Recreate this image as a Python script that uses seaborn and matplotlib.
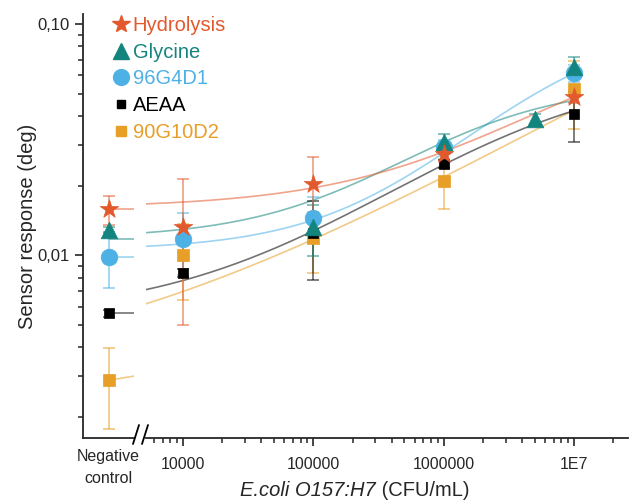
import numpy as np
import pandas as pd
import matplotlib
matplotlib.use("Agg")
import matplotlib.pyplot as plt
import seaborn as sns
from matplotlib.lines import Line2D
from matplotlib.ticker import FixedLocator, LogLocator, NullFormatter, FixedFormatter

# ---------------- data ----------------
series = ["Hydrolysis", "Glycine", "96G4D1", "AEAA", "90G10D2"]
colors = ["#E2592D", "#14857E", "#4DB1E6", "#000000", "#E89F27"]
markers = ["*", "^", "o", "s", "s"]
msizes = [14, 12, 12, 7, 8]

# negative control (mean, sd)
nc_mean = [0.0158, 0.0129, 0.00985, 0.00562, 0.00288]
nc_err = [0.0023, 0.0003, 0.0026, 0.0002, 0.0011]
# level of the fit baseline shown in the negative-control panel (start, end)
nc_fit_start = [0.0158, 0.0117, 0.00985, 0.00562, 0.00288]
nc_fit_end = [0.0158, 0.0117, 0.00985, 0.00562, 0.0030]

conc_hyd = [1e4, 1e5, 1e6, 1e7]
resp_hyd = [0.0132, 0.0204, 0.0275, 0.0484]
err_hyd = [0.0082, 0.0063, 0.0020, 0.0030]

conc_gly = [1e5, 1e6, 5e6, 1e7]
resp_gly = [0.0132, 0.0310, 0.0388, 0.0653]
err_gly = [0.0033, 0.0025, 0.0020, 0.0065]

conc_96 = [1e4, 1e5, 1e6, 1e7]
resp_96 = [0.0117, 0.01455, 0.0294, 0.0612]
err_96 = [0.0035, 0.0033, 0.0020, 0.0050]

conc_aeaa = [1e4, 1e5, 1e6, 1e7]
resp_aeaa = [0.00838, 0.0125, 0.0248, 0.0410]
err_aeaa = [0.0003, 0.0047, 0.0010, 0.0100]

conc_90 = [1e4, 1e5, 1e6, 1e7]
resp_90 = [0.0100, 0.0119, 0.0210, 0.0521]
err_90 = [0.0036, 0.0035, 0.0051, 0.0170]

# four-parameter logistic fit parameters (bottom, top, EC50, hill)
fit_bottom = [0.0160, 0.0118, 0.0105, 0.0054, 0.0029]
fit_top = [0.100, 0.055, 0.100, 0.065, 0.500]
fit_ec50 = [2.25e7, 1.39e6, 6.97e6, 4.05e6, 1.34e10]
fit_hill = [0.575, 0.73, 0.74, 0.53, 0.34]

xtick_vals = [1e4, 1e5, 1e6, 1e7]
xtick_labels = ["10000", "100000", "1000000", "1E7"]
ytick_vals = [0.01, 0.1]
ytick_labels = ["0,01", "0,10"]

concs = [conc_hyd, conc_gly, conc_96, conc_aeaa, conc_90]
resps = [resp_hyd, resp_gly, resp_96, resp_aeaa, resp_90]
errs = [err_hyd, err_gly, err_96, err_aeaa, err_90]

# ---------------- style ----------------
sns.set_theme(style="ticks")
plt.rcParams["font.family"] = ["Liberation Sans", "DejaVu Sans"]
plt.rcParams["axes.linewidth"] = 1.3

W, H = 632, 500
fig = plt.figure(figsize=(W / 100, H / 100), dpi=100)
bottom_px, top_px = 438, 14
ax_nc = fig.add_axes([83 / W, (H - bottom_px) / H, (134 - 83) / W, (bottom_px - top_px) / H])
ax = fig.add_axes([146 / W, (H - bottom_px) / H, (628 - 146) / W, (bottom_px - top_px) / H],
                  sharey=ax_nc)

ylo, yhi = 0.00162, 0.1105
xlo, xhi = 5200, 2.6e7


def four_pl(x, b, t, c, h):
    return t + (b - t) / (1 + (x / c) ** h)


order = [4, 3, 2, 1, 0]  # draw red on top
for i in order:
    col = colors[i]
    # fit curve
    xs = np.logspace(np.log10(xlo), 7, 200)
    ys = four_pl(xs, fit_bottom[i], fit_top[i], fit_ec50[i], fit_hill[i])
    sns.lineplot(x=xs, y=ys, ax=ax, color=col, alpha=0.55, linewidth=1.2, zorder=2)
    # neg control fit line
    sns.lineplot(x=[0.5, 1.0], y=[nc_fit_start[i], nc_fit_end[i]], ax=ax_nc, color=col,
                 alpha=0.55, linewidth=1.2, zorder=2)
    # error bars
    ax.errorbar(concs[i], resps[i], yerr=errs[i], fmt="none", ecolor=col, alpha=0.55,
                elinewidth=1.3, capsize=4, capthick=1.3, zorder=3 + (4 - i))
    ax_nc.errorbar([0.5], [nc_mean[i]], yerr=[nc_err[i]], fmt="none", ecolor=col, alpha=0.55,
                   elinewidth=1.3, capsize=4, capthick=1.3, zorder=3 + (4 - i))
    # markers
    sns.scatterplot(x=concs[i], y=resps[i], ax=ax, marker=markers[i], color=col,
                    s=msizes[i] ** 2, edgecolor=col, linewidth=0.5, zorder=10 + (4 - i))
    sns.scatterplot(x=[0.5], y=[nc_mean[i]], ax=ax_nc, marker=markers[i], color=col,
                    s=msizes[i] ** 2, edgecolor=col, linewidth=0.5, zorder=10 + (4 - i))

for a in (ax, ax_nc):
    a.set_yscale("log")
    a.set_ylim(ylo, yhi)
    a.set_xlabel("")
    a.set_ylabel("")

ax.set_xscale("log")
ax.set_xlim(xlo, xhi)
ax_nc.set_xlim(0, 1)

# y axis on the left panel
ax_nc.yaxis.set_major_locator(FixedLocator(ytick_vals))
ax_nc.yaxis.set_major_formatter(FixedFormatter(ytick_labels))
ax_nc.yaxis.set_minor_locator(LogLocator(base=10, subs=np.arange(2, 10)))
ax_nc.yaxis.set_minor_formatter(NullFormatter())
ax_nc.tick_params(axis="y", which="major", length=6, width=1.2, labelsize=12, direction="out")
ax_nc.tick_params(axis="y", which="minor", length=3.5, width=1.1, direction="out")
ax_nc.set_xticks([0.5])
ax_nc.set_xticklabels(["Negative\ncontrol"], fontsize=11.5, linespacing=1.6)
ax_nc.tick_params(axis="x", length=0, pad=8)
ax_nc.spines["top"].set_visible(False)
ax_nc.spines["right"].set_visible(False)

# right panel
ax.xaxis.set_major_locator(FixedLocator(xtick_vals))
ax.xaxis.set_major_formatter(FixedFormatter(xtick_labels))
ax.xaxis.set_minor_locator(LogLocator(base=10, subs=np.arange(2, 10)))
ax.xaxis.set_minor_formatter(NullFormatter())
ax.tick_params(axis="x", which="major", length=6, width=1.2, labelsize=11.5, pad=8)
ax.tick_params(axis="x", which="minor", length=3.5, width=1.1)
ax.tick_params(axis="y", which="both", left=False, labelleft=False)
for s in ("top", "right", "left"):
    ax.spines[s].set_visible(False)

# axis break marks
for x0 in (133, 142):
    fig.add_artist(Line2D([x0 / W, (x0 + 6) / W], [(H - 444) / H, (H - 425) / H],
                          color="black", linewidth=1.3, transform=fig.transFigure))

# labels
fig.text(28 / W, 0.5 * ((H - bottom_px) + (H - top_px)) / H, "Sensor response (deg)",
         rotation=90, ha="center", va="center", fontsize=14.5)

renderer = fig.canvas.get_renderer()
t1 = fig.text(0, (H - 490) / H, "E.coli O157:H7", style="italic", ha="left", va="center",
              fontsize=14.5)
t2 = fig.text(0, (H - 490) / H, "\u00a0(CFU/mL)", ha="left", va="center", fontsize=14.5)
w1 = t1.get_window_extent(renderer).width
w2 = t2.get_window_extent(renderer).width
x_start = 355 - (w1 + w2) / 2
t1.set_x(x_start / W)
t2.set_x((x_start + w1) / W)

# legend
handles = [Line2D([], [], linestyle="none", marker=markers[i], color=colors[i],
                  markersize=msizes[i] * (0.95 if i < 3 else 0.9)) for i in range(5)]
leg = fig.legend(handles, series, loc="upper left", bbox_to_anchor=(112 / W, 1 - 16 / H),
                 frameon=False, fontsize=14.5, handlelength=0.9, handletextpad=0.12,
                 labelspacing=0.38, borderpad=0, borderaxespad=0)
for t, c in zip(leg.get_texts(), colors):
    t.set_color(c)

fig.savefig("out.png", dpi=100)
